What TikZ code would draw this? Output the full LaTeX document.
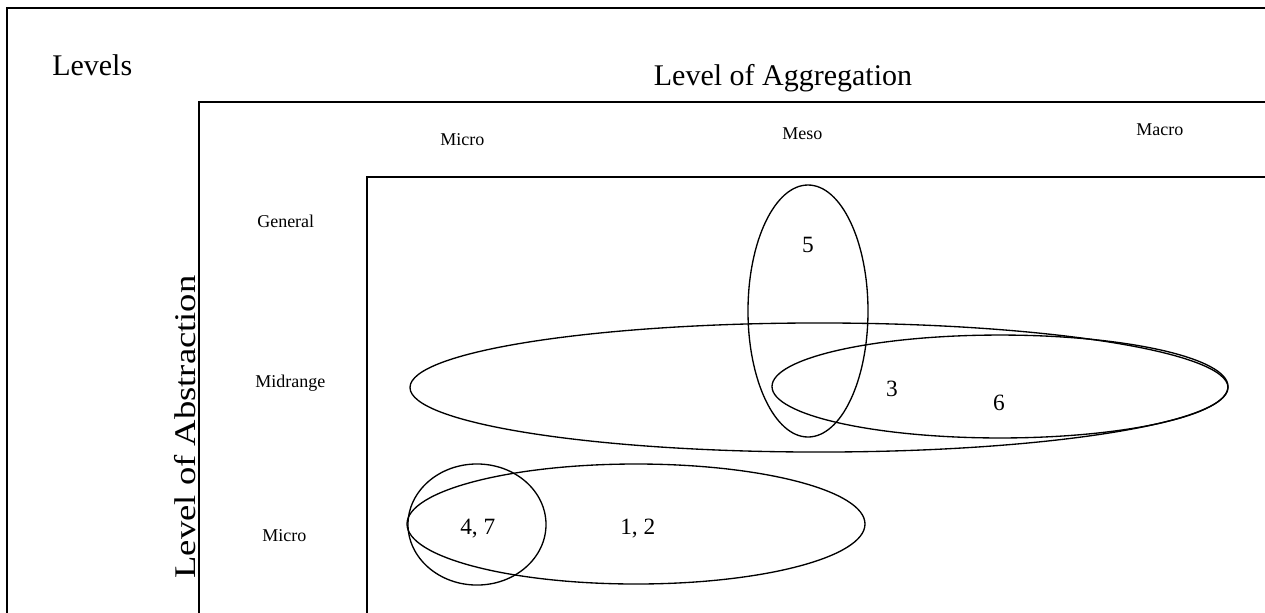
\documentclass[tikz,border=0pt]{standalone}
\usepackage{fontspec}
\setmainfont{Liberation Serif}
\begin{document}
\begin{tikzpicture}[x=0.75pt,y=-0.75pt,
  frame/.style={draw=black,line width=1.5pt},
  oval/.style={draw=black,line width=1pt},
  big/.style={font=\fontsize{22.5}{26}\selectfont,inner sep=0pt},
  small/.style={font=\fontsize{13.5}{16}\selectfont,inner sep=0pt},
  num/.style={font=\fontsize{17.5}{20}\selectfont,inner sep=0pt}]
\useasboundingbox (0,0) rectangle (1265,612);
\clip (0,0) rectangle (1265,612);
% frames
\draw[frame] (7,640) -- (7,8) -- (1290,8);
\draw[frame] (199,640) -- (199,102) -- (1290,102);
\draw[frame] (367,640) -- (367,177) -- (1290,177);
% ovals
\draw[oval] (819,387.5) ellipse [x radius=306.75pt, y radius=48.4pt];
\draw[oval] (1000,386.5) ellipse [x radius=171pt, y radius=38.6pt];
\draw[oval] (808,311) ellipse [x radius=45pt, y radius=94.5pt];
\draw[oval] (636,524) ellipse [x radius=171.75pt, y radius=45pt];
\draw[oval] (477,524.5) ellipse [x radius=51.75pt, y radius=45.4pt];
% titles
\node[big,anchor=base west] (levels) at (52,75) {Levels};
\node[big,anchor=base] (agg) at (783,85) {Level of Aggregation};
\node[big,rotate=90,anchor=base] (abs) at (195,427) {\scalebox{1.22}[1]{Level of Abstraction}};
% column labels
\node[small,anchor=base west] (cmicro) at (440,145) {Micro};
\node[small,anchor=base west] (cmeso) at (782,139) {Meso};
\node[small,anchor=base west] (cmacro) at (1136,135) {Macro};
% row labels
\node[small,anchor=base west] (rgen) at (257,227) {General};
\node[small,anchor=base west] (rmid) at (255,387) {Midrange};
\node[small,anchor=base west] (rmicro) at (262,541) {Micro};
% numbers
\node[num,anchor=base] (n5) at (808,252) {5};
\node[num,anchor=base] (n3) at (892,396) {3};
\node[num,anchor=base] (n6) at (999,410) {6};
\node[num,anchor=base west] (n47) at (460,534) {4, 7};
\node[num,anchor=base west] (n12) at (620,534) {1, 2};
\end{tikzpicture}
\end{document}
